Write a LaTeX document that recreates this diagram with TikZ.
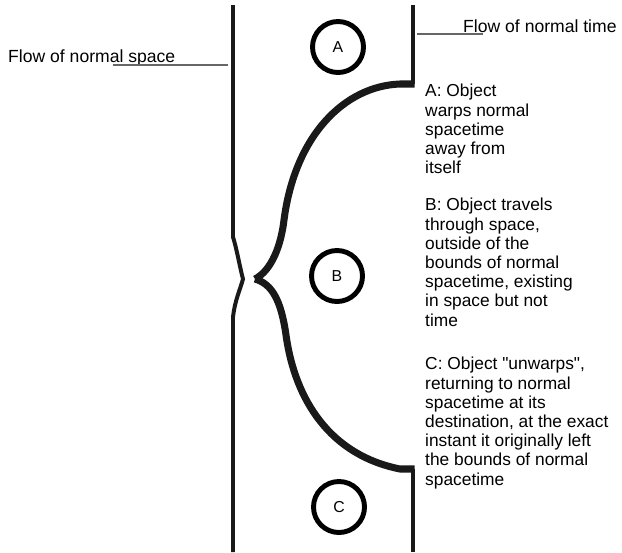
\documentclass[tikz,border=0pt]{standalone}
\usepackage{fontspec}
\setmainfont{Liberation Sans}

\begin{document}
\begin{tikzpicture}[x=0.03cm, y=-0.03cm,
    wall/.style={line width=3.4pt, black!90},
    warp/.style={line width=6pt, black!90, line join=miter},
    leader/.style={line width=1pt, black!60},
    obj/.style={circle, draw, line width=4.2pt, minimum size=1.53cm, inner sep=0pt, font=\fontsize{13.5}{15}\selectfont},
    note/.style={align=left, anchor=north west, inner sep=0pt, font=\fontsize{14.8}{16.4}\selectfont}]
    \useasboundingbox (0,0) rectangle (622,552);

    % left side of normal spacetime, pinched where the object leaves
    \draw[wall] (233,5) -- (233,237) .. controls (237,250) and (240,268) .. (243,279)
        .. controls (240,290) and (235,300) .. (233,317) -- (233,552);

    % right side of normal spacetime
    \draw[wall] (413,5) -- (413,84);
    \draw[wall] (413,469) -- (413,552);

    % warped region
    \draw[warp] (414.7,84) -- (400,84) .. controls (345,86) and (295,135) .. (284,220)
        .. controls (281,245) and (272,270) .. (255,279);
    \draw[warp] (255,279) .. controls (272,284) and (281,300) .. (286,335)
        .. controls (295,400) and (330,455) .. (400,469) -- (414.7,469);

    % the object
    \node[obj] (a) at (338,47) {A};
    \node[obj] (b) at (337,276) {B};
    \node[obj] (c) at (339,507) {C};

    % labels
    \node[anchor=base west, inner sep=0pt, font=\fontsize{15}{17}\selectfont] (spacelbl) at (8,62) {Flow of normal space};
    \node[anchor=base west, inner sep=0pt, font=\fontsize{15}{17}\selectfont] (timelbl) at (463,32) {Flow of normal time};
    \coordinate (spacefrom) at (113,65);
    \coordinate (spaceto) at (228,65);
    \coordinate (timefrom) at (417,34);
    \coordinate (timeto) at (483,34);
    \draw[leader] (spacefrom) -- (spaceto);
    \draw[leader] (timefrom) -- (timeto);

    \node[note] (anote) at (425,84) {A: Object\\warps normal\\spacetime\\away from\\itself};
    \node[note] (bnote) at (425,198) {B: Object travels\\through space,\\outside of the\\bounds of normal\\spacetime, existing\\in space but not\\time};
    \node[note] (cnote) at (425,357) {C: Object \textquotedbl unwarps\textquotedbl,\\returning to normal\\spacetime at its\\destination, at the exact\\instant it originally left\\the bounds of normal\\spacetime};
\end{tikzpicture}
\end{document}
